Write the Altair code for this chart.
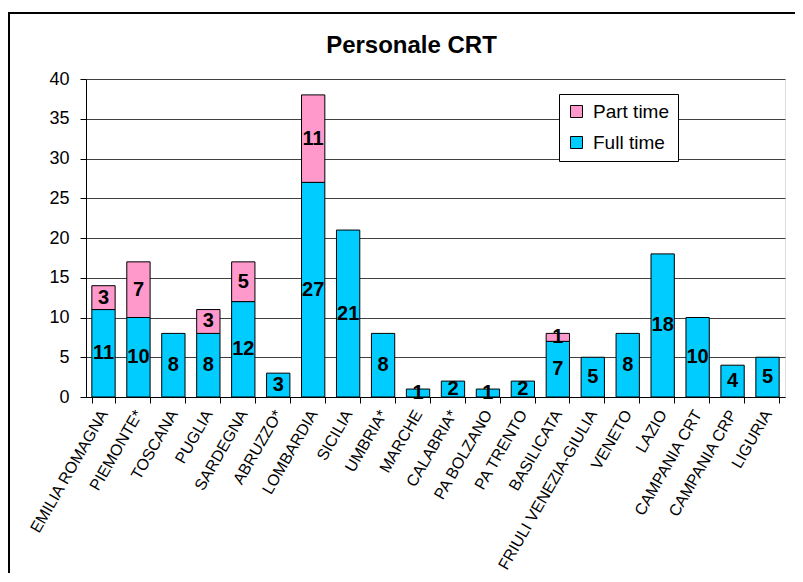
import altair as alt
import pandas as pd

categories = ["EMILIA ROMAGNA", "PIEMONTE*", "TOSCANA", "PUGLIA", "SARDEGNA",
              "ABRUZZO*", "LOMBARDIA", "SICILIA", "UMBRIA*", "MARCHE",
              "CALABRIA*", "PA BOLZANO", "PA TRENTO", "BASILICATA",
              "FRIULI VENEZIA-GIULIA", "VENETO", "LAZIO", "CAMPANIA CRT",
              "CAMPANIA CRP", "LIGURIA"]
full_time = [11, 10, 8, 8, 12, 3, 27, 21, 8, 1, 2, 1, 2, 7, 5, 8, 18, 10, 4, 5]
part_time = [3, 7, 0, 3, 5, 0, 11, 0, 0, 0, 0, 0, 0, 1, 0, 0, 0, 0, 0, 0]
series_names = ["Part time", "Full time"]
series_colors = ["#FF99CC", "#00CCFF"]
y_ticks = [0, 5, 10, 15, 20, 25, 30, 35, 40]

rows = []
for c, f, p in zip(categories, full_time, part_time):
    rows.append({"cat": c, "series": "Full time", "y0": 0, "y1": f, "v": f, "ord": 0})
    if p > 0:
        rows.append({"cat": c, "series": "Part time", "y0": f, "y1": f + p, "v": p, "ord": 1})
df = pd.DataFrame(rows)
df["mid"] = (df["y0"] + df["y1"]) / 2

FONT = "Liberation Sans"

x_scale = alt.Scale(paddingInner=0.333, paddingOuter=0.167)
x_axis = alt.Axis(labelAngle=300, labelAlign="right", labelBaseline="middle",
                  labelFontSize=16, labelFont=FONT, labelColor="black",
                  labelPadding=8, tickBand="extent", tickSize=6,
                  tickColor="black", domainColor="black", grid=False,
                  labelOverlap=False, labelLimit=0)
y_scale = alt.Scale(domain=[0, 40], nice=False)
y_axis = alt.Axis(values=y_ticks, labelFontSize=18, labelFont=FONT,
                  labelColor="black", labelPadding=11, tickSize=6, tickColor="black",
                  domainColor="black", grid=True, gridColor="#404040", gridWidth=1,
                  labelOverlap=False)

base = alt.Chart(df)

bars = base.mark_bar(stroke="black", strokeWidth=1).encode(
    x=alt.X("cat:N", sort=categories, title=None, scale=x_scale, axis=x_axis),
    y=alt.Y("y1:Q", scale=y_scale, axis=y_axis, title=None),
    y2="y0:Q",
    color=alt.Color("series:N", scale=alt.Scale(domain=series_names, range=series_colors),
                    legend=alt.Legend(title=None, orient="none", legendX=473, legendY=15,
                                      symbolType="square", symbolSize=144,
                                      symbolStrokeColor="black", symbolStrokeWidth=1,
                                      labelFontSize=19, labelFont=FONT, labelColor="black",
                                      labelOffset=7, rowPadding=11, padding=8,
                                      fillColor="white", strokeColor="black")),
    order=alt.Order("ord:Q"),
)

labels = base.mark_text(font=FONT, fontSize=20, fontWeight="bold", color="black",
                        baseline="middle").encode(
    x=alt.X("cat:N", sort=categories, title=None, scale=x_scale, axis=x_axis),
    y=alt.Y("mid:Q", scale=y_scale, axis=y_axis, title=None),
    text="v:Q",
)

frame = alt.Chart(alt.Data(values=[{}])).mark_rect(
    fillOpacity=0, stroke="black", strokeWidth=2).encode(
    x=alt.value(-77), x2=alt.value(720), y=alt.value(-66), y2=alt.value(600))

chart = alt.layer(bars, labels, frame).properties(
    width=699, height=318,
    title=alt.TitleParams("Personale CRT", fontSize=24, font=FONT, fontWeight="bold",
                          color="black", anchor="middle", dx=-24, offset=-46),
    padding={"left": 78, "top": 71, "right": 10, "bottom": 176},
    autosize=alt.AutoSizeParams(type="none"),
).configure_view(stroke="#808080", strokeWidth=1).configure(background="white")

chart.save("out.html", embed_options={"renderer": "svg", "actions": False})
